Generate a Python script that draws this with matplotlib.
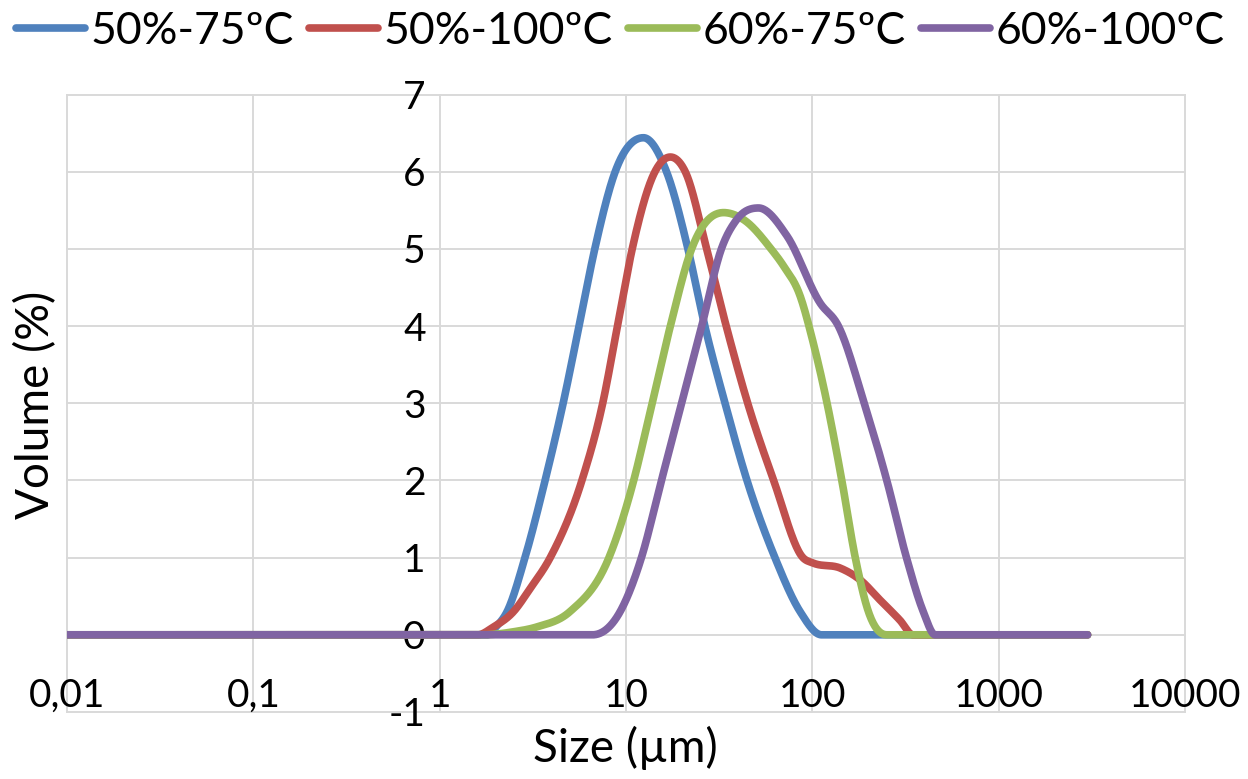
import numpy as np
import matplotlib

matplotlib.use("Agg")
import matplotlib.pyplot as plt

# Particle size distribution (size in um, volume in %)
series_names = ["50%-75ºC", "50%-100ºC", "60%-75ºC", "60%-100ºC"]
series_colors = ["#4F81BD", "#C0504D", "#9BBB59", "#8064A2"]

size_50_75 = [0.01, 1.8, 2.0, 2.3, 2.87, 3.68, 4.6, 5.6, 6.8, 8.75, 12.4,
              16.5, 21.5, 26.5, 34, 44.6, 63, 86, 112, 3000]
vol_50_75 = [0, 0, 0.1, 0.3, 1, 2, 3, 4, 5, 6, 6.44,
             6, 5, 4, 3, 2, 1, 0.3, 0, 0]

size_50_100 = [0.01, 1.6, 1.94, 2.49, 3.06, 3.92, 5.8, 7.5, 9.0, 10.8, 14.3,
               17.3, 20.8, 27.1, 34.5, 45, 62, 89, 101, 141, 181, 231,
               295, 347, 3000]
vol_50_100 = [0, 0, 0.1, 0.3, 0.6, 1, 2, 3, 4, 5, 6,
              6.19, 6, 5, 4, 3, 2, 1, 0.93, 0.865, 0.71, 0.45,
              0.19, 0, 0]

size_60_75 = [0.01, 1.7, 2.5, 3.3, 5.0, 8.1, 11, 13.8, 17.3, 22.5,
              33.4, 42.7, 60, 70, 86, 100, 120, 144, 170, 200, 251, 3000]
vol_60_75 = [0, 0, 0.04, 0.1, 0.3, 1, 2, 3, 4, 5,
             5.47, 5.38, 5, 4.78, 4.39, 3.83, 3, 2, 1, 0.3, 0, 0]

size_60_100 = [0.01, 6.6, 9.3, 12.1, 15.5, 19.9, 25.5, 32.5, 39.3, 51.4, 73,
               110, 138, 190, 251, 320, 394, 456, 3000]
vol_60_100 = [0, 0, 0.3, 1, 2, 3, 4, 5, 5.38, 5.53, 5.17,
              4.3, 4, 3, 2, 1, 0.3, 0, 0]

x_ticks = [0.01, 0.1, 1, 10, 100, 1000, 10000]
x_labels = ["0,01", "0,1", "1", "10", "100", "1000", "10000"]
y_ticks = [-1, 0, 1, 2, 3, 4, 5, 6, 7]


def smooth(x, y, per_seg=40):
    """Cubic Hermite through the points in log-x space (3-point slopes, clamped)."""
    lx = np.log10(np.asarray(x, float))
    y = np.asarray(y, float)
    h = np.diff(lx)
    d = np.diff(y) / h
    m = np.zeros_like(y)
    for k in range(1, len(y) - 1):
        if d[k - 1] * d[k] > 0:
            p = (d[k - 1] * h[k] + d[k] * h[k - 1]) / (h[k - 1] + h[k])
            lim = 3 * min(abs(d[k - 1]), abs(d[k]))
            m[k] = np.sign(p) * min(abs(p), lim)
    xs, ys = [], []
    t = np.linspace(0, 1, per_seg, endpoint=False)
    h00 = 2 * t**3 - 3 * t**2 + 1
    h10 = t**3 - 2 * t**2 + t
    h01 = -2 * t**3 + 3 * t**2
    h11 = t**3 - t**2
    for k in range(len(h)):
        xs.append(lx[k] + t * h[k])
        ys.append(h00 * y[k] + h10 * h[k] * m[k] + h01 * y[k + 1] + h11 * h[k] * m[k + 1])
    xs.append([lx[-1]])
    ys.append([y[-1]])
    return 10 ** np.concatenate(xs), np.concatenate(ys)


plt.rcParams["font.family"] = ["Lato", "DejaVu Sans"]
plt.rcParams["axes.unicode_minus"] = False

fig = plt.figure(figsize=(12.48, 7.79), dpi=100)
ax = fig.add_axes([67 / 1248, 67 / 779, 1118 / 1248, 617.5 / 779])
ax.set_xscale("log")
ax.set_xlim(x_ticks[0], x_ticks[-1])
ax.set_ylim(y_ticks[0], y_ticks[-1])

grid_kw = dict(color="#d9d9d9", lw=1.4, zorder=0.5, clip_on=False)
for v in x_ticks:
    ax.axvline(v, **grid_kw)
for v in y_ticks:
    ax.axhline(v, **grid_kw)

data = [(size_50_75, vol_50_75), (size_50_100, vol_50_100),
        (size_60_75, vol_60_75), (size_60_100, vol_60_100)]
for (sx, sy), name, col in zip(data, series_names, series_colors):
    xs, ys = smooth(sx, sy)
    ax.plot(xs, ys, color=col, lw=5.5, label=name, solid_capstyle="round",
            solid_joinstyle="round", zorder=2)

for s in ax.spines.values():
    s.set_visible(False)
ax.spines["left"].set_position(("data", 1))
ax.spines["bottom"].set_position(("data", 0))

ax.set_xticks(x_ticks)
ax.set_xticklabels(x_labels)
ax.minorticks_off()
ax.set_yticks(y_ticks)
ax.set_yticklabels([str(v) for v in y_ticks])
ax.tick_params(axis="x", length=0, pad=31, labelsize=28)
ax.tick_params(axis="y", length=0, pad=10, labelsize=28)

fig.text(625 / 1248, 1 - 748 / 779, "Size (µm)", ha="center", va="center", fontsize=33)
fig.text(36 / 1248, 1 - 405 / 779, "Volume (%)", ha="center", va="center",
         rotation=90, fontsize=33)

fig.legend(loc="center", bbox_to_anchor=(0.497, 1 - 31 / 779), ncol=4, frameon=False,
           fontsize=32, handlelength=1.55, handletextpad=0.12, columnspacing=0.35,
           borderpad=0, borderaxespad=0)

fig.savefig("out.png", dpi=100)
